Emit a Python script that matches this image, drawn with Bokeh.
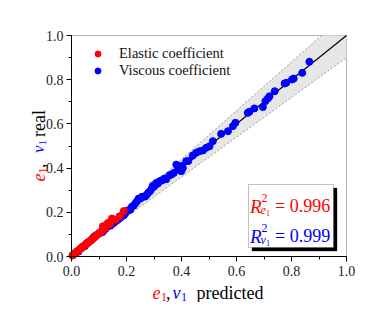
import math
from bokeh.plotting import figure
from bokeh.models import (Range1d, FixedTicker, PrintfTickFormatter, Label, BoxAnnotation,
                          Legend, LegendItem)
from bokeh.embed import file_html
from bokeh.resources import INLINE

# ---------------- data ----------------
elastic_pred = [0.004, 0.008, 0.012, 0.015, 0.018, 0.022, 0.025, 0.028, 0.031, 0.034,
                0.037, 0.040, 0.043, 0.046, 0.049, 0.052, 0.055, 0.058, 0.061, 0.064,
                0.067, 0.070, 0.073, 0.076, 0.079, 0.082, 0.085, 0.088, 0.091, 0.094,
                0.098, 0.102, 0.106, 0.110, 0.114, 0.118, 0.124, 0.132, 0.140, 0.147,
                0.160, 0.175, 0.190]
elastic_real = [0.006, 0.009, 0.014, 0.016, 0.021, 0.024, 0.026, 0.031, 0.033, 0.036,
                0.040, 0.042, 0.046, 0.048, 0.052, 0.055, 0.057, 0.061, 0.064, 0.066,
                0.070, 0.073, 0.075, 0.080, 0.082, 0.086, 0.088, 0.092, 0.095, 0.098,
                0.103, 0.106, 0.111, 0.114, 0.137, 0.122, 0.130, 0.152, 0.146, 0.172,
                0.166, 0.182, 0.206]

viscous_pred = [0.004, 0.010, 0.018, 0.025, 0.033, 0.040, 0.048, 0.055, 0.062, 0.070,
                0.076, 0.082, 0.088, 0.094, 0.100, 0.106, 0.112, 0.118, 0.124, 0.130,
                0.136, 0.142, 0.148, 0.154, 0.160, 0.166, 0.172, 0.178, 0.184, 0.190,
                0.196, 0.202, 0.208, 0.214, 0.220, 0.226, 0.232, 0.238, 0.244, 0.250,
                0.256, 0.262, 0.268, 0.274, 0.280, 0.286, 0.292, 0.296, 0.300, 0.308,
                0.314, 0.320, 0.326, 0.332, 0.338, 0.345, 0.356, 0.365, 0.372, 0.381,
                0.387, 0.399, 0.399, 0.405, 0.417, 0.425, 0.441, 0.453, 0.465, 0.478,
                0.490, 0.502, 0.514, 0.544, 0.569, 0.587, 0.596, 0.641, 0.647, 0.665,
                0.696, 0.705, 0.714, 0.720, 0.739, 0.775, 0.781, 0.802, 0.808, 0.839,
                0.865]
viscous_real = [0.005, 0.012, 0.020, 0.022, 0.036, 0.044, 0.046, 0.060, 0.066, 0.072,
                0.082, 0.090, 0.094, 0.100, 0.104, 0.108, 0.110, 0.118, 0.126, 0.136,
                0.138, 0.140, 0.150, 0.152, 0.160, 0.164, 0.170, 0.176, 0.186, 0.186,
                0.196, 0.206, 0.210, 0.212, 0.226, 0.230, 0.240, 0.250, 0.262, 0.262,
                0.270, 0.270, 0.272, 0.280, 0.290, 0.296, 0.308, 0.321, 0.316, 0.333,
                0.330, 0.340, 0.344, 0.346, 0.353, 0.350, 0.367, 0.372, 0.378, 0.416,
                0.394, 0.409, 0.386, 0.400, 0.431, 0.432, 0.457, 0.469, 0.476, 0.480,
                0.492, 0.499, 0.522, 0.555, 0.567, 0.590, 0.605, 0.650, 0.655, 0.670,
                0.676, 0.703, 0.715, 0.725, 0.748, 0.783, 0.786, 0.801, 0.805, 0.831,
                0.881]

ticks = [0.0, 0.2, 0.4, 0.6, 0.8, 1.0]
minor = [0.1, 0.3, 0.5, 0.7, 0.9]
hi_factor, lo_factor = 1.1, 0.9       # +/-10 % band
r2_elastic = "0.996"
r2_viscous = "0.999"

# band outline clipped to the unit box
x_top = 1.0 / hi_factor
band_x = [0.0, x_top, 1.0]
band_lower = [0.0, lo_factor * x_top, lo_factor]
band_upper = [0.0, 1.0, 1.0]
ref_x = [0.0, 1.0]

RED = "#ff0000"
BLUE = "#0000ff"
SERIF = "Liberation Serif"

# ---------------- geometry (page pixels) ----------------
OFF = 1
W, H = 376, 302
X0, X1 = 72, 347     # page x of data 0 and 1
Y1, Y0 = 36, 257     # page y of data 1 and 0
def dx(px):
    return (px - X0) / (X1 - X0)
def dy(py):
    return (Y0 - py) / (Y0 - Y1)

p = figure(width=W, height=H, output_backend="svg", toolbar_location=None,
           x_range=Range1d(dx(OFF), dx(OFF + W)), y_range=Range1d(dy(OFF + H), dy(OFF)),
           min_border=0, min_border_left=0, min_border_right=0,
           min_border_top=0, min_border_bottom=0)
p.grid.visible = False
p.outline_line_color = None
p.background_fill_color = "white"
p.border_fill_color = "white"

for ax in (p.xaxis[0], p.yaxis[0]):
    ax.fixed_location = 0
    ax.bounds = (0, 1)
    ax.ticker = FixedTicker(ticks=ticks, minor_ticks=minor)
    ax.formatter = PrintfTickFormatter(format="%.1f")
    ax.major_label_text_font = SERIF
    ax.major_label_text_font_size = "14px"
    ax.major_label_text_color = "#222222"
    ax.axis_line_color = "black"
    ax.major_tick_line_color = "black"
    ax.minor_tick_line_color = "black"
    ax.major_tick_in = 0
    ax.major_tick_out = 5
    ax.minor_tick_in = 0
    ax.minor_tick_out = 3
p.xaxis.major_label_standoff = 4
p.yaxis.major_label_standoff = 3

# band and lines
p.varea(x=band_x, y1=band_lower, y2=band_upper, fill_color="#e6e6e6", fill_alpha=1)
p.line(band_x[:2], band_upper[:2], line_color="#999999", line_dash="2 2", line_width=1)
p.line(ref_x, [band_lower[0], band_lower[2]], line_color="#999999", line_dash="2 2", line_width=1)
p.line(ref_x, ref_x, line_color="black", line_width=1.2)

rv = p.scatter(viscous_pred, viscous_real, size=7, color=BLUE, line_color=BLUE)
re_ = p.scatter(elastic_pred, elastic_real, size=7, color=RED, line_color=RED)

# plot box (top and right sides)
p.add_layout(BoxAnnotation(left=0, right=1, bottom=0, top=1, fill_alpha=0,
                           line_color="black", line_width=1, level="underlay"))

legend = Legend(items=[LegendItem(label="Elastic coefficient", renderers=[re_]),
                       LegendItem(label="Viscous coefficient", renderers=[rv])],
                location=(X0 - OFF + 7, OFF + H - 80))
legend.margin = 0
legend.padding = 5
legend.spacing = 0
legend.glyph_width = 39
legend.glyph_height = 15
legend.label_height = 15
legend.label_standoff = 2
legend.label_text_font = SERIF
legend.label_text_font_size = "14.5px"
legend.label_text_color = "#111111"
legend.border_line_color = None
legend.background_fill_alpha = 0
p.add_layout(legend)

def lab(text, px, py, size, color="black", italic=False, angle=0.0):
    p.add_layout(Label(x=dx(px), y=dy(py), text=text, text_font=SERIF,
                       text_font_size=size, text_color=color,
                       text_font_style="italic" if italic else "normal",
                       text_align="left", text_baseline="alphabetic",
                       angle=angle, angle_units="rad"))

# x axis label: e1, v1 predicted
lab("e", 153, 293, "18px", RED, True)
lab("1", 161.5, 297, "12px", RED)
lab(",", 166.5, 293, "18px")
lab("v", 173, 293, "18px", BLUE, True)
lab("1", 181.5, 297, "12px", BLUE)
lab("predicted", 197, 293, "18px")

# y axis label (rotated)
A = math.pi / 2
lab("e", 39, 182, "18px", RED, True, A)
lab("1", 43, 174, "12px", RED, False, A)
lab(",", 39, 168.5, "18px", "black", False, A)
lab("v", 39, 153.5, "17px", BLUE, True, A)
lab("1", 43, 146, "11px", BLUE, False, A)
lab("real", 39, 137.5, "18px", "black", False, A)

# R^2 box with shadow
p.add_layout(BoxAnnotation(left=dx(252.5), right=dx(337.5), top=dy(188.5), bottom=dy(251.5),
                           fill_color="black", fill_alpha=1, line_color="black"))
p.add_layout(BoxAnnotation(left=dx(249), right=dx(334), top=dy(185), bottom=dy(248),
                           fill_color="white", fill_alpha=1, line_color="#333333",
                           line_width=1))

for (txt, sub, col, base) in [(r2_elastic, "e", RED, 206.5), (r2_viscous, "v", BLUE, 236.5)]:
    lab("R", 250.5, base, "19px", col, True)
    lab("2", 262, base - 8.5, "12px", col)
    lab(sub, 261, base + 4, "12px", col, True)
    lab("1", 266.5, base + 6.5, "8px", col)
    lab("= " + txt, 275.5, base, "18px", col)

open("out.html", "w").write(file_html(p, INLINE))
